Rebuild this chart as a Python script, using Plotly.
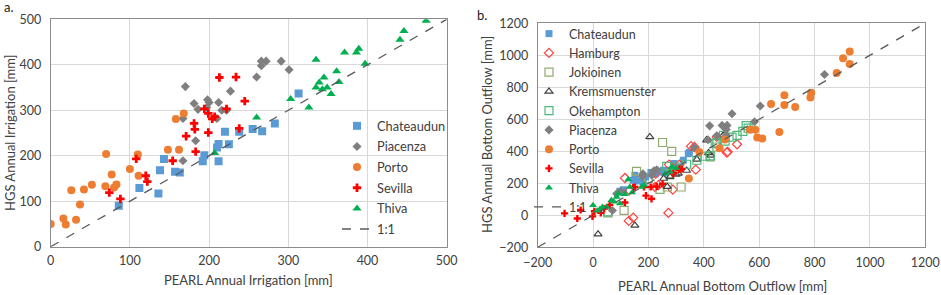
import plotly.graph_objects as go

# ---------------- Panel a: annual irrigation ----------------
a_chateaudun_x = [86, 112, 136, 138, 143, 157, 163, 192, 194, 212, 210, 212, 225, 220, 238, 255, 267, 283, 313]
a_chateaudun_y = [90, 129, 117, 168, 193, 165, 163, 188, 201, 188, 218, 226, 225, 253, 253, 259, 254, 271, 337]
a_piacenza_x = [170, 181, 186, 198, 200, 212, 167, 197, 216, 222, 210, 227, 260, 266, 266, 272, 291, 301, 183, 167]
a_piacenza_y = [352, 315, 302, 323, 317, 317, 282, 306, 300, 300, 282, 342, 373, 398, 408, 408, 408, 389, 233, 189]
a_porto_x = [0, 16, 19, 26, 32, 37, 42, 52, 70, 69, 77, 80, 83, 100, 110, 111, 148, 162, 158, 168]
a_porto_y = [50, 62, 49, 124, 59, 93, 126, 136, 204, 133, 159, 130, 137, 171, 203, 156, 213, 213, 281, 293]
a_sevilla_x = [74, 88, 108, 120, 122, 154, 183, 213, 234, 245, 222, 194, 199, 207, 204, 181, 182, 171, 199, 238]
a_sevilla_y = [119, 105, 193, 156, 143, 189, 209, 372, 373, 320, 303, 303, 293, 286, 281, 271, 258, 243, 251, 260]
a_thiva_x = [474, 446, 441, 389, 386, 371, 397, 335, 361, 364, 345, 339, 335, 343, 349, 354, 303, 326, 260, 207]
a_thiva_y = [497, 474, 455, 435, 427, 427, 402, 411, 386, 362, 372, 361, 350, 346, 350, 336, 325, 306, 284, 206]
a_line = [0, 500]

# ---------------- Panel b: annual bottom outflow ----------------
b_chateaudun_x = [97, 110, 145, 151, 165, 181, 190, 209, 225, 242, 254, 260, 274, 292, 300, 326, 344, 348]
b_chateaudun_y = [150, 160, 219, 250, 215, 208, 240, 267, 260, 271, 281, 265, 281, 323, 300, 344, 385, 394]
b_hamburg_x = [115, 131, 129, 145, 224, 236, 226, 272, 288, 274, 312, 366, 354, 371, 447, 483, 520, 486]
b_hamburg_y = [233, 156, -35, -15, 177, 188, 260, 15, 160, 317, 317, 427, 432, 285, 490, 392, 444, 397]
b_jokioinen_x = [54, 112, 157, 242, 268, 318, 251, 284, 276, 423, 447, 200]
b_jokioinen_y = [15, 31, 275, 162, 177, 177, 455, 400, 260, 365, 427, 230]
b_krems_x = [18, 151, 205, 268, 278, 300, 308, 338, 375, 417, 425, 410, 470, 255]
b_krems_y = [-118, -63, 490, 179, 240, 255, 262, 280, 350, 390, 375, 470, 500, 230]
b_okehampton_x = [53, 266, 296, 338, 375, 405, 423, 441, 447, 477, 471, 502, 520, 541, 553, 560]
b_okehampton_y = [21, 306, 302, 319, 344, 369, 371, 448, 453, 463, 500, 488, 500, 525, 561, 545]
b_piacenza_x = [836, 604, 502, 583, 421, 466, 484, 481, 415, 447, 481, 366, 220, 212, 180, 99, 85, 70, 230, 178]
b_piacenza_y = [880, 683, 635, 585, 559, 562, 562, 536, 472, 497, 501, 424, 278, 250, 260, 150, 135, 30, 285, 244]
b_porto_x = [927, 903, 927, 880, 788, 785, 691, 691, 730, 643, 673, 567, 586, 593, 611, 476, 457, 384, 346, 309]
b_porto_y = [1024, 982, 945, 889, 766, 737, 750, 689, 677, 696, 521, 534, 534, 486, 480, 473, 419, 396, 230, 292]
b_sevilla_x = [-103, -57, -45, -2, 5, 28, 60, 115, 145, 151, 184, 191, 211, 208, 230, 251, 290, 311, 40, 320]
b_sevilla_y = [12, -20, 33, -7, 25, 15, 65, 80, 175, 177, 177, 123, 103, 177, 180, 196, 262, 285, 42, 290]
b_thiva_x = [0, 15, 25, 34, 48, 66, 75, 85, 91, 97, 115, 127, 133, 141, 175, 183, 260, 278, 284, 300]
b_thiva_y = [63, 28, 40, 52, 52, 94, 85, 115, 135, 73, 131, 223, 177, 142, 177, 190, 260, 271, 302, 295]
b_line = [-200, 1200]

FONT = "Lato"
TXT = "#404040"

fig = go.Figure()

def add(x, y, name, symbol, color, size, xa, ya, legend, group):
    marker = dict(symbol=symbol, color=color, size=size)
    if symbol.endswith("open"):
        marker["line"] = dict(color=color, width=1.2)
    fig.add_trace(go.Scatter(x=x, y=y, mode="markers", name=name, marker=marker,
                             xaxis=xa, yaxis=ya, legend=legend, legendgroup=group))

# panel a
add(a_chateaudun_x, a_chateaudun_y, "Chateaudun", "square", "#5b9bd5", 8, "x", "y", "legend", "a1")
add(a_piacenza_x, a_piacenza_y, "Piacenza", "diamond", "#7f7f7f", 7, "x", "y", "legend", "a2")
add(a_porto_x, a_porto_y, "Porto", "circle", "#ed7d31", 8, "x", "y", "legend", "a3")
add(a_sevilla_x, a_sevilla_y, "Sevilla", "cross", "#ff0000", 7, "x", "y", "legend", "a4")
add(a_thiva_x, a_thiva_y, "Thiva", "triangle-up", "#00b050", 8, "x", "y", "legend", "a5")
fig.add_trace(go.Scatter(x=a_line, y=a_line, mode="lines", name="1:1",
                         line=dict(color="#595959", dash="dash", width=1.3),
                         xaxis="x", yaxis="y", legend="legend", legendgroup="a6"))

# panel b
add(b_chateaudun_x, b_chateaudun_y, "Chateaudun", "square", "#5b9bd5", 7, "x2", "y2", "legend2", "b")
add(b_hamburg_x, b_hamburg_y, "Hamburg", "diamond-open", "#ff4040", 7, "x2", "y2", "legend2", "b")
add(b_jokioinen_x, b_jokioinen_y, "Jokioinen", "square-open", "#8faa6e", 8, "x2", "y2", "legend2", "b")
add(b_krems_x, b_krems_y, "Kremsmuenster", "triangle-up-open", "#404040", 7, "x2", "y2", "legend2", "b")
add(b_okehampton_x, b_okehampton_y, "Okehampton", "square-open", "#4cb87a", 8, "x2", "y2", "legend2", "b")
add(b_piacenza_x, b_piacenza_y, "Piacenza", "diamond", "#7f7f7f", 7, "x2", "y2", "legend2", "b")
add(b_porto_x, b_porto_y, "Porto", "circle", "#ed7d31", 8, "x2", "y2", "legend2", "b")
add(b_sevilla_x, b_sevilla_y, "Sevilla", "cross", "#ff0000", 6, "x2", "y2", "legend2", "b")
add(b_thiva_x, b_thiva_y, "Thiva", "triangle-up", "#00b050", 7, "x2", "y2", "legend2", "b")
fig.add_trace(go.Scatter(x=b_line, y=b_line, mode="lines", name="1:1",
                         line=dict(color="#595959", dash="dash", width=1.3),
                         xaxis="x2", yaxis="y2", legend="legend2", legendgroup="b"))

W, H = 941, 295
def px(v): return v / W          # v: pixel in window coords
def py(v): return (H - v) / H

axis_common = dict(showgrid=True, gridcolor="#d9d9d9", gridwidth=1, showline=True,
                   linecolor="#8c8c8c", linewidth=1, mirror=True, zeroline=False,
                   ticks="", automargin=False, ticklabeloverflow="allow",
                   tickfont=dict(family=FONT, size=12.5, color=TXT))

fig.update_layout(
    width=W, height=H, margin=dict(l=0, r=0, t=0, b=0, autoexpand=False),
    paper_bgcolor="white", plot_bgcolor="white",
    font=dict(family=FONT, color=TXT),
    xaxis=dict(domain=[px(50.7), px(446.7)], range=[0, 500], dtick=100, anchor="y",
               ticklabelstandoff=2, **axis_common),
    yaxis=dict(domain=[py(246.7), py(19.3)], range=[0, 500], dtick=100, anchor="x",
               ticklabelstandoff=6, **axis_common),
    xaxis2=dict(domain=[px(537.7), px(925.3)], range=[-200, 1200], dtick=200, anchor="y2",
                ticklabelstandoff=4, **axis_common),
    yaxis2=dict(domain=[py(247.3), py(23.3)], range=[-200, 1200], dtick=200, anchor="x2",
                ticklabelstandoff=6, **axis_common),
    legend=dict(x=px(337), y=py(111), xanchor="left", yanchor="top", bgcolor="rgba(255,255,255,0)",
                font=dict(family=FONT, size=12.8, color=TXT), tracegroupgap=1),
    legend2=dict(x=px(529), y=py(19), xanchor="left", yanchor="top", bgcolor="rgba(255,255,255,0)",
                 font=dict(family=FONT, size=12.5, color=TXT), tracegroupgap=0),
    showlegend=True,
)

def ann(text, x, y, size=13, angle=0, color=TXT):
    return dict(text=text, x=px(x), y=py(y), xref="paper", yref="paper", showarrow=False,
                xanchor="center", yanchor="middle", textangle=angle,
                font=dict(family=FONT, size=size, color=color))

fig.update_layout(annotations=[
    ann("a.", 9, 7, 13, 0, "#222"),
    ann("b.", 482, 15, 13, 0, "#222"),
    ann("PEARL Annual Irrigation [mm]", 249, 280),
    ann("HGS Annual Irrigation [mm]", 10, 133, angle=-90),
    ann("PEARL Annual Bottom Outflow [mm]", 722, 285.5),
    ann("HGS Annual Bottom Outflow [mm]", 487, 135, angle=-90),
])

fig.write_html("out.html", config={"displayModeBar": False},
               post_script="document.body.style.margin='0px';")
